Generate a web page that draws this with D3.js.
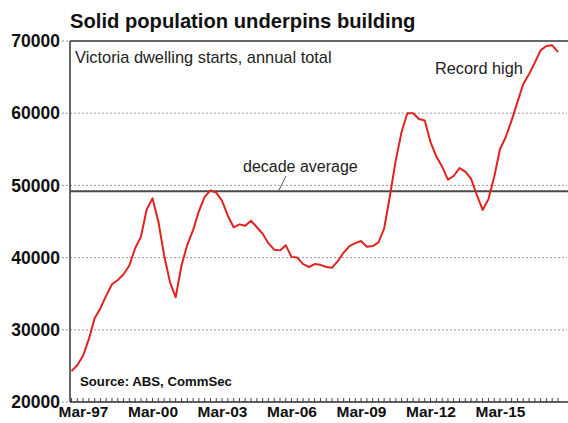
<!DOCTYPE html>
<html>
<head>
<meta charset="utf-8">
<script src="https://cdn.jsdelivr.net/npm/d3@7"></script>
<style>
  html, body { margin: 0; padding: 0; background: #fff; }
  svg { display: block; font-family: "Liberation Sans", Arial, sans-serif; }
</style>
</head>
<body>
<svg id="chart" width="568" height="423"></svg>
<script>
// ---- data (quarterly, annual total of Victoria dwelling starts) ----
const startQuarter = new Date(1996, 8, 1); // Sep-96
const starts = [24300, 25100, 26400, 28700, 31600, 33000, 34700, 36300, 36900, 37700,
  38900, 41300, 42900, 46700, 48200, 45000, 40300, 36600, 34500, 38900,
  41800, 43800, 46400, 48400, 49300, 49000, 47900, 45800, 44200, 44600,
  44400, 45100, 44200, 43300, 42000, 41100, 41000, 41700, 40100, 40000,
  39100, 38700, 39100, 39000, 38700, 38600, 39500, 40700, 41600, 42000,
  42300, 41500, 41600, 42100, 44000, 48600, 53500, 57400, 60000, 60000,
  59200, 59000, 56000, 54000, 52600, 50800, 51300, 52400, 51900, 50900,
  48700, 46600, 48100, 51200, 55000, 56700, 59000, 61500, 64000, 65400,
  67000, 68700, 69300, 69400, 68500];
const decadeAverage = 49200;
const yTicks = [20000, 30000, 40000, 50000, 60000, 70000];
const xTickLabels = ["Mar-97", "Mar-00", "Mar-03", "Mar-06", "Mar-09", "Mar-12", "Mar-15"];
const xTickDates = [new Date(1997,2,1), new Date(2000,2,1), new Date(2003,2,1), new Date(2006,2,1),
  new Date(2009,2,1), new Date(2012,2,1), new Date(2015,2,1)];

const title = "Solid population underpins building";
const subtitle = "Victoria dwelling starts, annual total";
const source = "Source: ABS, CommSec";

const data = starts.map((v, i) => ({ date: d3.timeMonth.offset(startQuarter, 3 * i), value: v }));

// ---- layout ----
const svg = d3.select("#chart");
const L = 70, R = 567, T = 41, B = 402;

const x = d3.scaleTime()
  .domain([new Date(1996, 7, 8), new Date(2018, 0, 21)])
  .range([L, R]);
const y = d3.scaleLinear().domain([20000, 70000]).range([B, T]);

// gridlines (dotted) incl. small outside ticks
svg.append("g").selectAll("line")
  .data(yTicks.filter(d => d < 70000))
  .join("line")
  .attr("x1", L - 8).attr("x2", R)
  .attr("y1", d => y(d)).attr("y2", d => y(d))
  .attr("stroke", "#9a9a9a").attr("stroke-width", 1)
  .attr("stroke-dasharray", "2,2");
svg.append("line")
  .attr("x1", L - 8).attr("x2", L)
  .attr("y1", y(70000)).attr("y2", y(70000))
  .attr("stroke", "#9a9a9a").attr("stroke-dasharray", "2,2");

// y axis labels
const yAxis = d3.axisLeft(y).tickValues(yTicks).tickSize(0).tickPadding(10).tickFormat(d3.format("d"));
const gy = svg.append("g").attr("transform", `translate(${L},0)`).call(yAxis);
gy.select(".domain").remove();
gy.selectAll("text").attr("font-size", 17.5).attr("font-weight", "bold").attr("fill", "#111")
  .attr("font-family", "Liberation Sans, Arial, sans-serif");

// x axis labels
const xAxis = d3.axisBottom(x).tickValues(xTickDates).tickSize(0).tickPadding(4)
  .tickFormat((d, i) => xTickLabels[i]);
const gx = svg.append("g").attr("transform", `translate(0,${B})`).call(xAxis);
gx.select(".domain").remove();
gx.selectAll("text").attr("font-size", 15.5).attr("font-weight", "bold").attr("fill", "#111")
  .attr("font-family", "Liberation Sans, Arial, sans-serif");

// minor quarterly ticks (inside, upward)
svg.append("g").selectAll("line")
  .data(data)
  .join("line")
  .attr("x1", d => x(d.date)).attr("x2", d => x(d.date))
  .attr("y1", B).attr("y2", B - 4)
  .attr("stroke", "#444").attr("stroke-width", 1);

// frame
svg.append("line").attr("x1", L).attr("x2", R + 1).attr("y1", T).attr("y2", T)
  .attr("stroke", "#333").attr("stroke-width", 1.5);
svg.append("line").attr("x1", L).attr("x2", L).attr("y1", T).attr("y2", B)
  .attr("stroke", "#333").attr("stroke-width", 1.5);
svg.append("line").attr("x1", L).attr("x2", R + 1).attr("y1", B).attr("y2", B)
  .attr("stroke", "#333").attr("stroke-width", 1.5);

// decade average
svg.append("line").attr("x1", L).attr("x2", R + 1)
  .attr("y1", y(decadeAverage)).attr("y2", y(decadeAverage))
  .attr("stroke", "#4a4a4a").attr("stroke-width", 2);

// series line
const line = d3.line().x(d => x(d.date)).y(d => y(d.value));
svg.append("path").datum(data)
  .attr("d", line)
  .attr("fill", "none")
  .attr("stroke", "#e0231f")
  .attr("stroke-width", 2)
  .attr("stroke-linejoin", "round");

// texts
svg.append("text").attr("x", 70).attr("y", 28)
  .attr("font-size", 20.2).attr("font-weight", "bold").attr("fill", "#111")
  .text(title);
svg.append("text").attr("x", 75).attr("y", 63)
  .attr("font-size", 16.4).attr("fill", "#222")
  .text(subtitle);
svg.append("text").attr("x", 435).attr("y", 74)
  .attr("font-size", 16.3).attr("fill", "#222")
  .text("Record high");
svg.append("text").attr("x", 243).attr("y", 172)
  .attr("font-size", 16).attr("fill", "#222")
  .text("decade average");
svg.append("line").attr("x1", 286).attr("y1", 176).attr("x2", 279).attr("y2", 190)
  .attr("stroke", "#555").attr("stroke-width", 1);
svg.append("text").attr("x", 80).attr("y", 386)
  .attr("font-size", 13.2).attr("font-weight", "bold").attr("fill", "#111")
  .text(source);
</script>
</body>
</html>
